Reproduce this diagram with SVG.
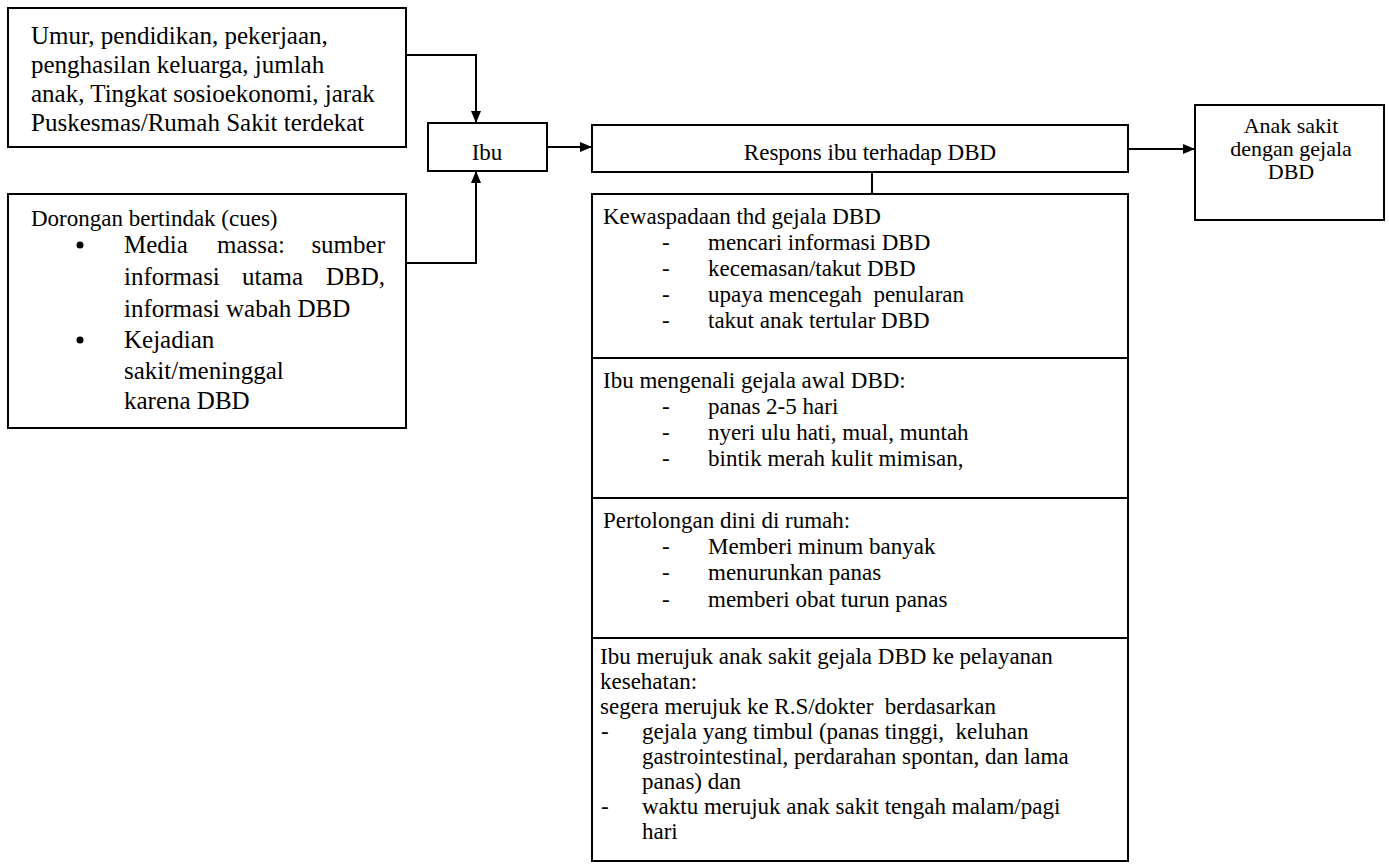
<svg xmlns="http://www.w3.org/2000/svg" width="1389" height="864" viewBox="0 0 1389 864">
  <style>
    .box { fill: #ffffff; stroke: #000000; stroke-width: 2; }
    .wire { fill: none; stroke: #000000; stroke-width: 2; }
    text { font-family: "Liberation Serif", "Times New Roman", serif; fill: #000000; }
    .lg { font-size: 25px; }
    .md { font-size: 23px; }
    .sm { font-size: 22px; }
    .mid { text-anchor: middle; }
    .end { text-anchor: end; }
  </style>
  <defs>
    <marker id="arrow" viewBox="0 0 12 10" refX="12" refY="5" markerWidth="12" markerHeight="10" markerUnits="userSpaceOnUse" orient="auto">
      <path d="M0,0 L12,5 L0,10 Z" fill="#000000"/>
    </marker>
  </defs>
  <rect width="1389" height="864" fill="#ffffff"/>

  <!-- background factors of the mother -->
  <g id="faktor">
    <rect class="box" x="8" y="8" width="398" height="139"/>
    <text class="lg" x="31" y="44">Umur, pendidikan, pekerjaan,</text>
    <text class="lg" x="31" y="73">penghasilan keluarga, jumlah</text>
    <text class="lg" x="31" y="102">anak, Tingkat sosioekonomi, jarak</text>
    <text class="lg" x="31" y="131">Puskesmas/Rumah Sakit terdekat</text>
  </g>

  <!-- cues to action -->
  <g id="dorongan">
    <rect class="box" x="8" y="194" width="398" height="234"/>
    <text class="md" x="31" y="226">Dorongan bertindak (cues)</text>
    <circle cx="80" cy="245" r="3.5" fill="#000000"/>
    <text class="lg" y="253"><tspan x="124">Media</tspan><tspan x="217">massa:</tspan><tspan class="end" x="385">sumber</tspan></text>
    <text class="lg" y="285"><tspan x="124">informasi</tspan><tspan x="242">utama</tspan><tspan class="end" x="385">DBD,</tspan></text>
    <text class="lg" x="124" y="317">informasi wabah DBD</text>
    <circle cx="80" cy="340" r="3.5" fill="#000000"/>
    <text class="lg" x="124" y="348">Kejadian</text>
    <text class="lg" x="124" y="379">sakit/meninggal</text>
    <text class="lg" x="124" y="409">karena DBD</text>
  </g>

  <g id="ibu">
    <rect class="box" x="428" y="123" width="119" height="48"/>
    <text class="md mid" x="487" y="160">Ibu</text>
  </g>

  <g id="respons">
    <rect class="box" x="592" y="125" width="536" height="47"/>
    <text class="md mid" x="870" y="160">Respons ibu terhadap DBD</text>
  </g>

  <g id="anak-sakit">
    <rect class="box" x="1195" y="105" width="189" height="115"/>
    <text class="sm mid" x="1291" y="133">Anak sakit</text>
    <text class="sm mid" x="1291" y="156">dengan gejala</text>
    <text class="sm mid" x="1291" y="179">DBD</text>
  </g>

  <!-- stacked components of the response -->
  <g id="kewaspadaan">
    <rect class="box" x="592" y="194" width="536" height="164"/>
    <text class="md" x="603" y="224">Kewaspadaan thd gejala DBD</text>
    <text class="md" x="662" y="250">-</text><text class="md" x="708" y="250">mencari informasi DBD</text>
    <text class="md" x="662" y="276">-</text><text class="md" x="708" y="276">kecemasan/takut DBD</text>
    <text class="md" x="662" y="302">-</text><text class="md" x="708" y="302" xml:space="preserve">upaya mencegah  penularan</text>
    <text class="md" x="662" y="328">-</text><text class="md" x="708" y="328">takut anak tertular DBD</text>
  </g>

  <g id="gejala-awal">
    <rect class="box" x="592" y="358" width="536" height="140"/>
    <text class="md" x="603" y="388">Ibu mengenali gejala awal DBD:</text>
    <text class="md" x="662" y="414">-</text><text class="md" x="708" y="414">panas 2-5 hari</text>
    <text class="md" x="662" y="440">-</text><text class="md" x="708" y="440">nyeri ulu hati, mual, muntah</text>
    <text class="md" x="662" y="466">-</text><text class="md" x="708" y="466">bintik merah kulit mimisan,</text>
  </g>

  <g id="pertolongan">
    <rect class="box" x="592" y="498" width="536" height="140"/>
    <text class="md" x="603" y="528">Pertolongan dini di rumah:</text>
    <text class="md" x="662" y="554">-</text><text class="md" x="708" y="554">Memberi minum banyak</text>
    <text class="md" x="662" y="580">-</text><text class="md" x="708" y="580">menurunkan panas</text>
    <text class="md" x="662" y="607">-</text><text class="md" x="708" y="607">memberi obat turun panas</text>
  </g>

  <g id="merujuk">
    <rect class="box" x="592" y="638" width="536" height="223"/>
    <text class="md" x="600" y="664">Ibu merujuk anak sakit gejala DBD ke pelayanan</text>
    <text class="md" x="600" y="689">kesehatan:</text>
    <text class="md" x="600" y="714" xml:space="preserve">segera merujuk ke R.S/dokter  berdasarkan</text>
    <text class="md" x="601" y="739">-</text><text class="md" x="642" y="739" xml:space="preserve">gejala yang timbul (panas tinggi,  keluhan</text>
    <text class="md" x="642" y="764">gastrointestinal, perdarahan spontan, dan lama</text>
    <text class="md" x="642" y="789">panas) dan</text>
    <text class="md" x="601" y="814">-</text><text class="md" x="642" y="814">waktu merujuk anak sakit tengah malam/pagi</text>
    <text class="md" x="642" y="839">hari</text>
  </g>

  <g id="connectors">
    <path class="wire" d="M406,55 H476 V123" marker-end="url(#arrow)"/>
    <path class="wire" d="M406,263 H476 V171" marker-end="url(#arrow)"/>
    <path class="wire" d="M547,147 H592" marker-end="url(#arrow)"/>
    <path class="wire" d="M1128,149 H1195" marker-end="url(#arrow)"/>
    <path class="wire" d="M872,172 V194"/>
  </g>
</svg>
